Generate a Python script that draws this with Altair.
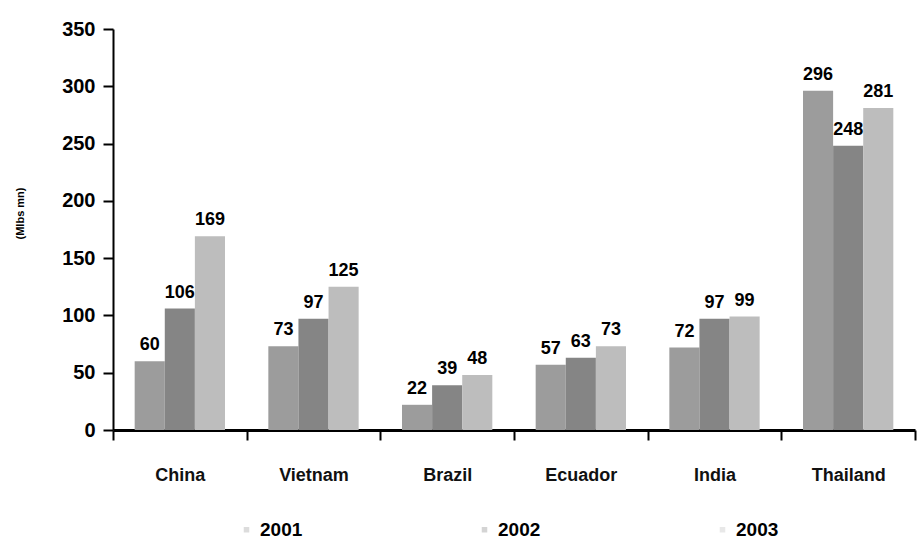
import altair as alt
import pandas as pd

# Shipment volumes by origin country and year
countries = ["China", "Vietnam", "Brazil", "Ecuador", "India", "Thailand"]
years = ["2001", "2002", "2003"]
v2001 = [60, 73, 22, 57, 72, 296]
v2002 = [106, 97, 39, 63, 97, 248]
v2003 = [169, 125, 48, 73, 99, 281]
bar_colors = ["#9c9c9c", "#858585", "#bdbdbd"]

rows = []
for i, c in enumerate(countries):
    for y, vals in zip(years, [v2001, v2002, v2003]):
        rows.append({"country": c, "year": y, "value": vals[i]})
df = pd.DataFrame(rows)

FONT = "Liberation Sans"

x_enc = alt.X(
    "country:N",
    sort=countries,
    title=None,
    scale=alt.Scale(paddingInner=0, paddingOuter=0),
    axis=alt.Axis(
        tickBand="extent",
        labelAngle=0,
        labelPadding=26,
        labelFont=FONT,
        labelFontSize=18,
        labelFontWeight="bold",
        labelColor="#111",
        domainColor="#000",
        domainWidth=3,
        tickColor="#000",
        tickWidth=2,
        tickSize=10,
    ),
)
# three adjacent bars centred in each country band
xoff = alt.XOffset("year:N", sort=years, scale=alt.Scale(paddingInner=0, paddingOuter=0.72))
y_enc = alt.Y(
    "value:Q",
    scale=alt.Scale(domain=[0, 350], nice=False),
    title="(Mlbs mn)",
    axis=alt.Axis(
        values=list(range(0, 351, 50)),
        grid=False,
        labelFont=FONT,
        labelFontSize=20,
        labelFontWeight="bold",
        labelColor="#000",
        labelPadding=8,
        domainColor="#000",
        domainWidth=2,
        tickColor="#000",
        tickWidth=2,
        tickSize=10,
        titleFont=FONT,
        titleFontSize=11,
        titleFontWeight="bold",
        titleColor="#000",
        titleX=-88,
        titleY=184,
    ),
)

bars = alt.Chart(df).mark_bar().encode(
    x=x_enc,
    xOffset=xoff,
    y=y_enc,
    color=alt.Color(
        "year:N",
        sort=years,
        scale=alt.Scale(domain=years, range=bar_colors),
        legend=alt.Legend(
            title=None,
            orient="none",
            legendX=124,
            legendY=491,
            direction="horizontal",
            columnPadding=172,
            labelFont=FONT,
            labelFontSize=19,
            labelFontWeight="bold",
            labelColor="#000",
            symbolType="square",
            symbolSize=30,
            symbolOpacity=0.35,
            symbolStrokeWidth=0,
        ),
    ),
)

labels = alt.Chart(df).mark_text(
    dy=-16, font=FONT, fontSize=18, fontWeight="bold", color="#000"
).encode(
    x=alt.X("country:N", sort=countries),
    xOffset=xoff,
    y="value:Q",
    text="value:Q",
)

chart = (
    alt.layer(bars, labels)
    .properties(
        width=802,
        height=401,
        autosize=alt.AutoSizeParams(type="none"),
        padding={"left": 113, "top": 29, "right": 8, "bottom": 116},
        background="#ffffff",
    )
    .configure_view(stroke=None)
)

chart.save("out.html", embed_options={"renderer": "svg", "actions": False})
